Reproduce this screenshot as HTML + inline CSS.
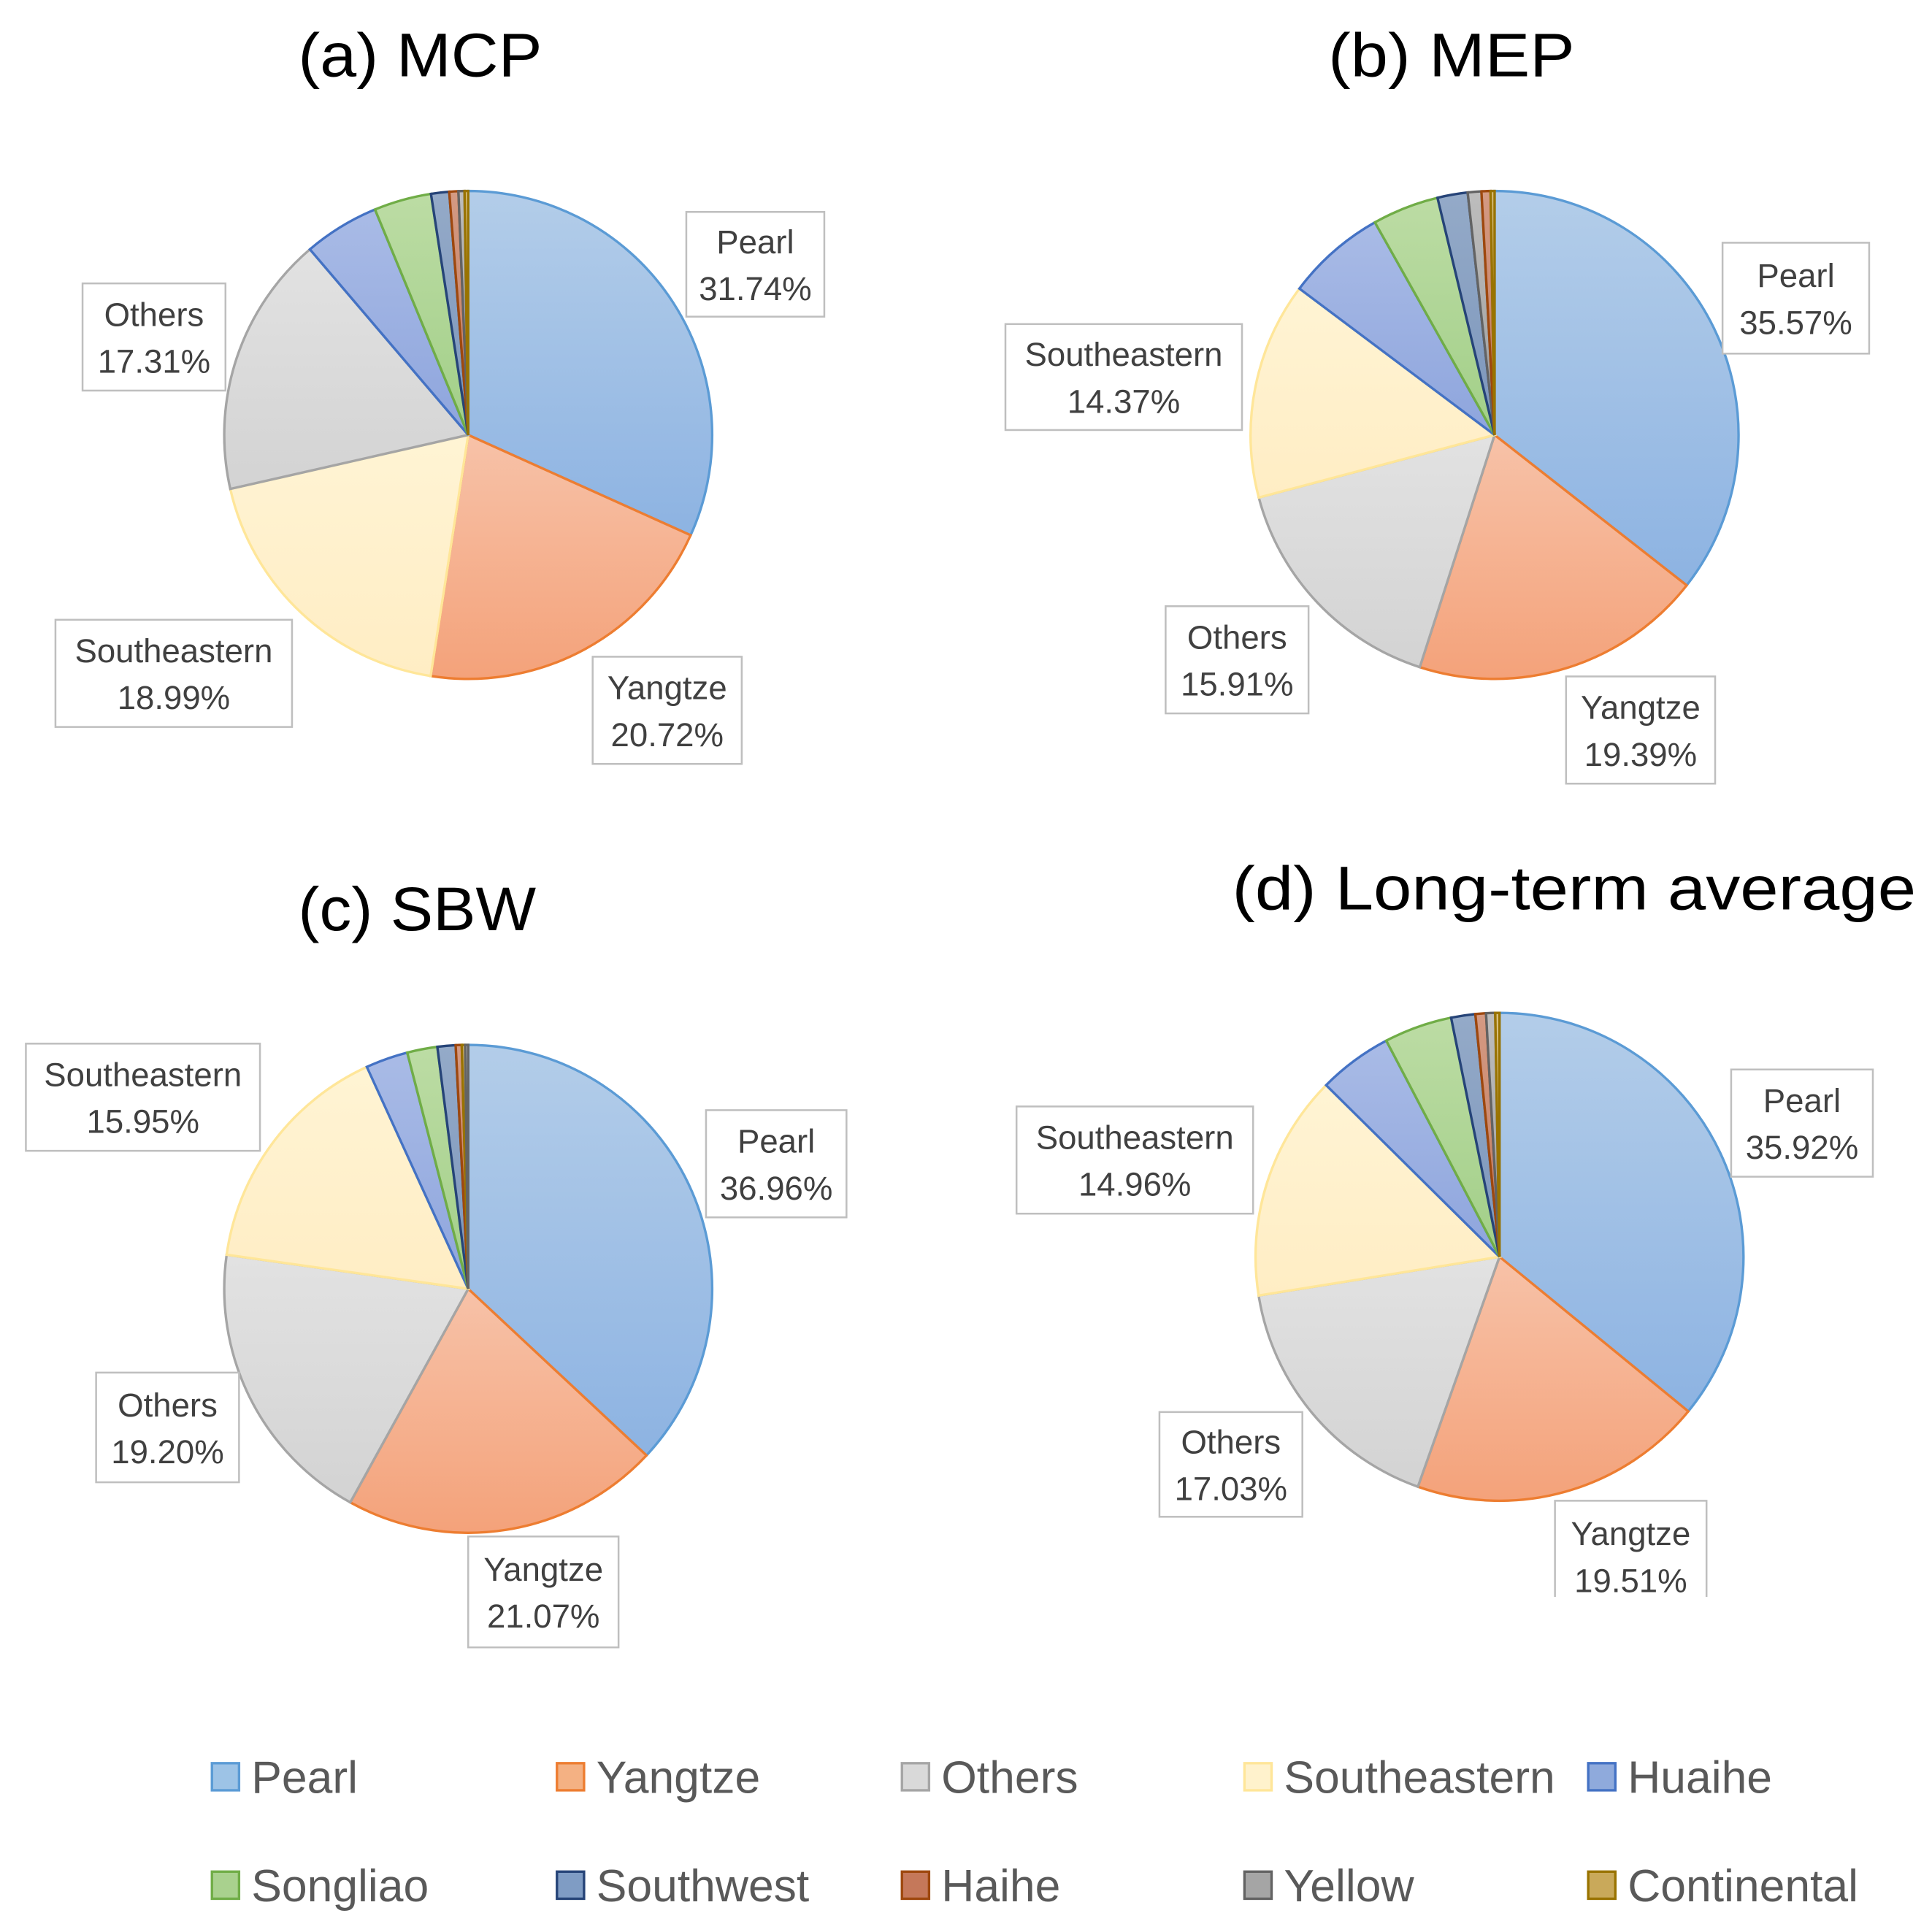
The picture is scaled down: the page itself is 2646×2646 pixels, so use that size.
<!DOCTYPE html>
<html><head><meta charset="utf-8"><style>
html,body{margin:0;padding:0;background:#fff}
svg{display:block}
</style></head><body>
<svg id="chart" width="2646" height="2646" viewBox="0 0 1568 1568" xmlns="http://www.w3.org/2000/svg" font-family="'Liberation Sans', sans-serif">
<defs>
<linearGradient id="gPearl" x1="0" y1="0" x2="0" y2="1"><stop offset="0" stop-color="#b3cde9"/><stop offset="1" stop-color="#8db3e2"/></linearGradient>
<linearGradient id="gYangtze" x1="0" y1="0" x2="0" y2="1"><stop offset="0" stop-color="#f7c2a8"/><stop offset="1" stop-color="#f4a27a"/></linearGradient>
<linearGradient id="gOthers" x1="0" y1="0" x2="0" y2="1"><stop offset="0" stop-color="#e2e2e2"/><stop offset="1" stop-color="#d3d3d3"/></linearGradient>
<linearGradient id="gSE" x1="0" y1="0" x2="0" y2="1"><stop offset="0" stop-color="#fff4d4"/><stop offset="1" stop-color="#ffedc4"/></linearGradient>
<linearGradient id="gHuaihe" x1="0" y1="0" x2="0" y2="1"><stop offset="0" stop-color="#a9bbe6"/><stop offset="1" stop-color="#8ea5dd"/></linearGradient>
<linearGradient id="gSongliao" x1="0" y1="0" x2="0" y2="1"><stop offset="0" stop-color="#bcdca4"/><stop offset="1" stop-color="#a2cf88"/></linearGradient>
<linearGradient id="gSouthwest" x1="0" y1="0" x2="0" y2="1"><stop offset="0" stop-color="#94aac8"/><stop offset="1" stop-color="#7c96bb"/></linearGradient>
<linearGradient id="gHaihe" x1="0" y1="0" x2="0" y2="1"><stop offset="0" stop-color="#d49a83"/><stop offset="1" stop-color="#c27a5d"/></linearGradient>
<linearGradient id="gYellow" x1="0" y1="0" x2="0" y2="1"><stop offset="0" stop-color="#bdbdbd"/><stop offset="1" stop-color="#9d9d9d"/></linearGradient>
<linearGradient id="gCont" x1="0" y1="0" x2="0" y2="1"><stop offset="0" stop-color="#d8bf7e"/><stop offset="1" stop-color="#c4a65a"/></linearGradient>
</defs>
<g id="titles" fill="#000" font-size="50" font-family="'Liberation Sans', sans-serif">
<text x="242" y="62" textLength="198" lengthAdjust="spacingAndGlyphs">(a) MCP</text>
<text x="1078" y="62" textLength="200" lengthAdjust="spacingAndGlyphs">(b) MEP</text>
<text x="242" y="755" textLength="193" lengthAdjust="spacingAndGlyphs">(c) SBW</text>
<text x="1000" y="738" textLength="555" lengthAdjust="spacingAndGlyphs">(d) Long-term average</text>
</g>
<g id="pies"></g>
<g id="labels"></g>
<g id="legend"></g>
</svg>
<script>
const NS="http://www.w3.org/2000/svg";
const categories=["Pearl","Yangtze","Others","Southeastern","Huaihe","Songliao","Southwest","Haihe","Yellow","Continental"];
const valuesMCP=[31.74,20.72,17.31,18.99,5.0,3.8,1.2,0.6,0.4,0.24];
const valuesMEP=[35.57,19.39,15.91,14.37,6.6,4.4,2.0,0.6,0.9,0.26];
const valuesSBW=[36.96,21.07,19.20,15.95,2.8,2.0,1.2,0.4,0.2,0.22];
const valuesAVG=[35.92,19.51,17.03,14.96,4.9,4.5,1.6,0.7,0.6,0.28];
const fills=["url(#gPearl)","url(#gYangtze)","url(#gOthers)","url(#gSE)","url(#gHuaihe)","url(#gSongliao)","url(#gSouthwest)","url(#gHaihe)","url(#gYellow)","url(#gCont)"];
const strokes=["#5b9bd5","#ed7d31","#a5a5a5","#ffe699","#4472c4","#70ad47","#264478","#9e480e","#636363","#997300"];
const legendFill=["#9dc3e6","#f4b183","#d9d9d9","#fff2cc","#8faadc","#a9d18e","#7f9cc4","#c5785a","#a5a5a5","#c9a95a"];
const pies=[
 {id:"mcp",vals:valuesMCP,cx:380,cy:353,r:198,labels:[[557,172,112,85],[481,533,121,87],[67,230,116,87],[45,503,192,87]]},
 {id:"mep",vals:valuesMEP,cx:1213,cy:353,r:198,labels:[[1398,197,119,90],[1271,549,121,87],[946,492,116,87],[816,263,192,86]]},
 {id:"sbw",vals:valuesSBW,cx:380,cy:1046,r:198,labels:[[573,901,114,87],[380,1247,122,90],[78,1114,116,89],[21,847,190,87]]},
 {id:"avg",vals:valuesAVG,cx:1217,cy:1020,r:198,labels:[[1405,868,115,87],[1262,1218,123,90],[941,1146,116,85],[825,898,192,87]]}
];
const gP=document.getElementById('pies'),gL=document.getElementById('labels'),gLeg=document.getElementById('legend');
function pt(cx,cy,r,a){return [cx+r*Math.sin(a),cy-r*Math.cos(a)];}
pies.forEach(p=>{
  const tot=p.vals.reduce((a,b)=>a+b,0);
  const order=p.vals.map((v,i)=>i).sort((a,b)=>p.vals[b]-p.vals[a]);
  let a0=0;
  order.forEach(i=>{
    const a1=a0+p.vals[i]/tot*2*Math.PI;
    const s=pt(p.cx,p.cy,p.r,a0),e=pt(p.cx,p.cy,p.r,a1);
    const path=document.createElementNS(NS,'path');
    path.setAttribute('d',`M${p.cx},${p.cy}L${s[0]},${s[1]}A${p.r},${p.r} 0 ${a1-a0>Math.PI?1:0} 1 ${e[0]},${e[1]}Z`);
    path.setAttribute('fill',fills[i]);path.setAttribute('stroke',strokes[i]);path.setAttribute('stroke-width','2');
    
    
    gP.appendChild(path);
    a0=a1;
  });
  for(let i=0;i<4;i++){
    const [x,y,w,h]=p.labels[i];
    const g=document.createElementNS(NS,'g');
    
    
    const rc=document.createElementNS(NS,'rect');
    rc.setAttribute('x',x);rc.setAttribute('y',y);rc.setAttribute('width',w);rc.setAttribute('height',h);
    rc.setAttribute('fill','#fff');rc.setAttribute('stroke','#bfbfbf');rc.setAttribute('stroke-width','1.5');
    g.appendChild(rc);
    const t1=document.createElementNS(NS,'text');
    t1.setAttribute('x',x+w/2);t1.setAttribute('y',y+h/2-9);t1.setAttribute('text-anchor','middle');
    t1.setAttribute('font-size','27');t1.setAttribute('fill','#404040');t1.textContent=categories[i];
    const t2=document.createElementNS(NS,'text');
    t2.setAttribute('x',x+w/2);t2.setAttribute('y',y+h/2+29);t2.setAttribute('text-anchor','middle');
    t2.setAttribute('font-size','27');t2.setAttribute('fill','#404040');t2.textContent=p.vals[i].toFixed(2)+'%';
    g.appendChild(t1);g.appendChild(t2);gL.appendChild(g);
  }
});
const cover=document.createElementNS(NS,'rect');
cover.setAttribute('x',1255);cover.setAttribute('y',1296);cover.setAttribute('width',140);cover.setAttribute('height',20);cover.setAttribute('fill','#fff');


gL.appendChild(cover);
const legX=[172,452,732,1010,1289];
categories.forEach((c,i)=>{
  const x=legX[i%5],y=i<5?1442:1530;
  const g=document.createElementNS(NS,'g');
  
  
  const r=document.createElementNS(NS,'rect');
  r.setAttribute('x',x);r.setAttribute('y',y-11);r.setAttribute('width',22);r.setAttribute('height',22);
  r.setAttribute('fill',legendFill[i]);r.setAttribute('stroke',strokes[i]);r.setAttribute('stroke-width','2');
  const t=document.createElementNS(NS,'text');
  t.setAttribute('x',x+32);t.setAttribute('y',y+13);t.setAttribute('font-size','37');t.setAttribute('fill','#595959');
  t.textContent=c;
  g.appendChild(r);g.appendChild(t);gLeg.appendChild(g);
});
</script>
</body></html>
